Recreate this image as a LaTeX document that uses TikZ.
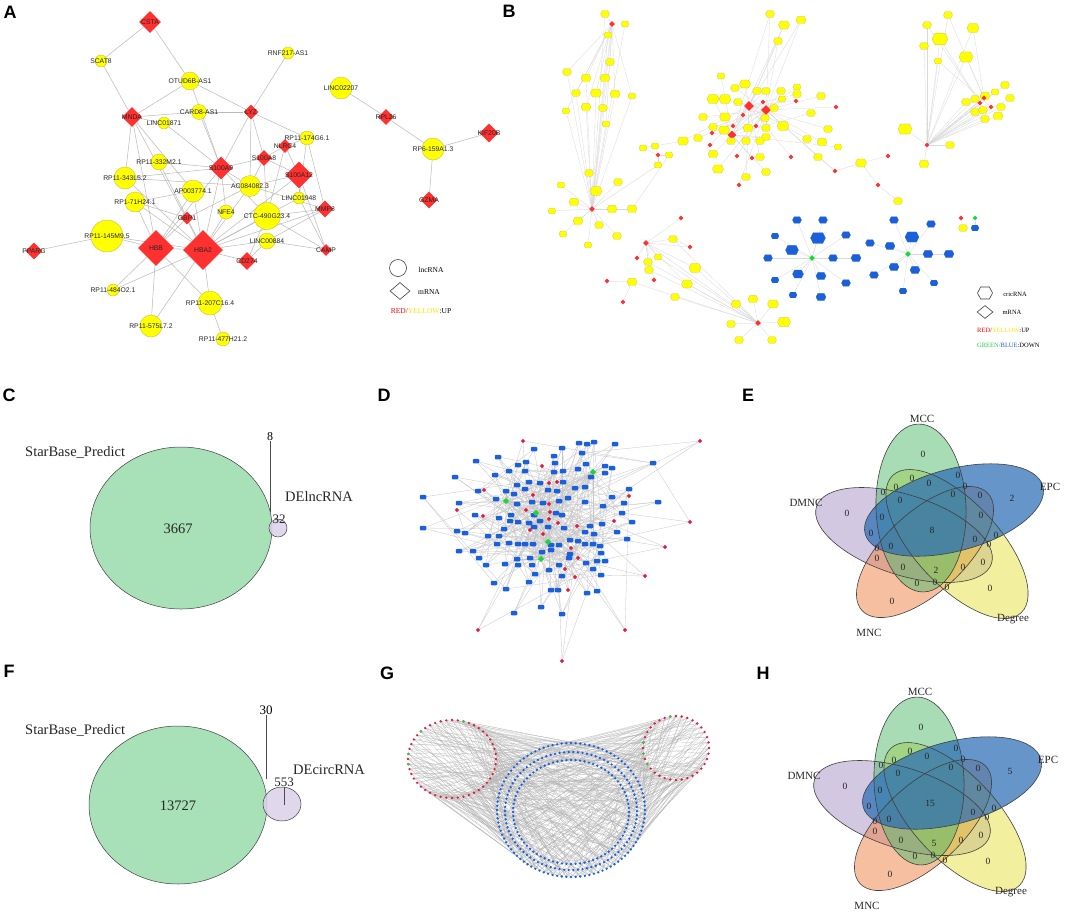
\documentclass[tikz,border=0pt]{standalone}
\usepackage{fontspec}
\setmainfont{Liberation Serif}
\setsansfont{Liberation Sans}
\usetikzlibrary{shapes.geometric,shapes.symbols}
\pgfdeclarelayer{bg}
\pgfsetlayers{bg,main}

\definecolor{cyred}{HTML}{FF3030}
\definecolor{cyyellow}{HTML}{FFFF00}
\definecolor{cyblue}{HTML}{1C5FDB}
\definecolor{cygreen}{HTML}{1ED43C}
\definecolor{ndred}{HTML}{E5193F}
\definecolor{mccfill}{HTML}{51BB6D}
\definecolor{epcfill}{HTML}{2A6DB5}
\definecolor{dmncfill}{HTML}{A793C7}
\definecolor{mncfill}{HTML}{EF8343}
\definecolor{degfill}{HTML}{E7E141}
\definecolor{spgreen}{HTML}{A8E0B8}
\definecolor{delilac}{HTML}{DCD1EA}

\tikzset{
  panel/.style={font=\fontsize{18}{18}\sffamily\bfseries, inner sep=0pt},
  lnc/.style={circle, fill=cyyellow, draw=yellow!70!black, line width=0.3pt, minimum size=#1, inner sep=0pt},
  mrna/.style={diamond, fill=cyred, minimum size=#1, inner sep=0pt},
  glab/.style={font=\fontsize{6.8}{6.8}\sffamily, text=black!85, inner sep=0pt},
  aedge/.style={gray!55, line width=0.5pt},
  hexy/.style={signal, signal to=east and west, signal pointer angle=125, fill=cyyellow, draw=yellow!75!black, line width=0.2pt, minimum width=#1, minimum height={0.72*#1}, inner sep=0pt},
  hexb/.style={hexy=#1, fill=cyblue, draw=cyblue},
  bred/.style={diamond, fill=cyred, minimum size=#1, inner sep=0pt},
  bred/.default=5,
  bgrn/.style={bred=#1, fill=cygreen},
  bgrn/.default=6,
  bedge/.style={gray!30, line width=0.3pt},
  legtxt/.style={font=\fontsize{7.5}{7.5}\selectfont, inner sep=0pt},
  legsml/.style={font=\fontsize{6.5}{6.5}\selectfont, inner sep=0pt},
  dblue/.style={rectangle, rounded corners=1pt, fill=cyblue, minimum width=6.5, minimum height=4.5, inner sep=0pt},
  dred/.style={diamond, fill=ndred, minimum size=4.5, inner sep=0pt},
  dgrn/.style={diamond, fill=cygreen, minimum size=6.5, inner sep=0pt},
  dedge/.style={gray!45, line width=0.3pt},
  gedge/.style={gray!60, line width=0.15pt},
  tlab/.style={font=\fontsize{14.5}{14.5}\selectfont, text=black!85, inner sep=0pt},
  vring/.style={draw=black!75, line width=0.6pt},
  vnum/.style={font=\fontsize{9.5}{9.5}\selectfont, text=black!85, inner sep=0pt},
  vlab/.style={font=\fontsize{11}{11}\selectfont, text=black!85, inner sep=0pt}
}

\begin{document}
\begin{tikzpicture}[x=1pt, y=-1pt]
\useasboundingbox (0,0) rectangle (1065,911);
\begin{pgfonlayer}{bg}
\fill[white] (0,0) rectangle (1065,911);
\end{pgfonlayer}

% panel letters
\node[panel] (lblA) at (10,12) {A};
\node[panel] (lblB) at (509,11) {B};
\node[panel] (lblC) at (9,395) {C};
\node[panel] (lblD) at (384,395) {D};
\node[panel] (lblE) at (748,395) {E};
\node[panel] (lblF) at (9,671) {F};
\node[panel] (lblG) at (387,673) {G};
\node[panel] (lblH) at (763,673) {H};

% ---------- A : lncRNA-mRNA network
\foreach \n/\x/\y/\s/\t in {scat/101/61/12/SCAT8, otud/190/81/18/OTUD6B-AS1, rnf/288/53/12/RNF217-AS1,
    lincA/164/123/12/LINC01871, card/199/112/15/CARD8-AS1, rpA/159/162/16/RP11-332M2.1,
    rpB/125/178/22/RP11-343L5.2, apn/193/191/22/AP003774.1, acn/250/186/21/AC084082.3,
    rpC/307/138/14/RP11-174G6.1, lincB/299/198/12/LINC01948, ctc/267/216/27/CTC-490G23.4,
    nfe/226/212/14/NFE4, rpD/135/202/20/RP1-71H24.1, rpE/107/236/32/RP11-145M9.5,
    lincC/267/241/16/LINC00884, rpF/113/290/12/RP11-484O2.1, rpG/210/303/24/RP11-207C16.4,
    rpH/151/326/22/RP11-575L7.2, rpI/223/339/14/RP11-477H21.2, lincD/341/88/22/LINC02207,
    rpJ/433/149/22/RP6-159A1.3}
  \node[lnc=\s, label={[glab]center:\t}] (\n) at (\x,\y) {};
\foreach \n/\x/\y/\s/\t in {csta/150/22/22/CSTA, mnda/132/117/20/MNDA, lyz/251/112/15/LYZ,
    sA9/221/168/23/S100A9, sA8/264/158/16/S100A8, nlrc/285/146/14/NLRC4, sA12/299/175/27/S100A12,
    mmp/325/209/17/MMP8, camp/326/250/12/CAMP, gbp/187/218/13/GBP1, hbb/156/248/36/HBB,
    hba/203/250/40/HBA2, pparg/34/251/17/PPARG, cd/247/261/18/CD274, rpl/386/117/16/RPL26,
    kif/489/133/19/KIF20B, gzma/429/200/17/GZMA}
  \node[mrna=\s, label={[glab]center:\t}] (\n) at (\x,\y) {};
\begin{pgfonlayer}{bg}
\foreach \a/\b in {csta/scat, csta/otud, scat/mnda, otud/mnda, otud/lyz, otud/sA9, rnf/lyz,
    mnda/card, card/lyz, card/sA9, lyz/sA9, lyz/sA8, lyz/rpC, lyz/acn, lincA/sA9, mnda/lincA,
    mnda/rpB, mnda/hbb, mnda/apn, mnda/hba, rpA/sA9, rpA/hba, rpB/sA9, rpB/hba, rpB/acn,
    sA9/hbb, sA9/hba, sA9/acn, sA9/sA8, sA9/nfe, sA9/ctc, sA8/nlrc, sA8/sA12, sA8/ctc, sA8/acn,
    nlrc/rpC, nlrc/ctc, nlrc/sA12, rpC/mmp, rpC/lincB, sA12/camp, sA12/lincB, sA12/hba, sA12/acn,
    lincB/camp, lincB/hba, mmp/ctc, mmp/lincC, mmp/hba, mmp/acn, camp/lincC, camp/ctc,
    hbb/hba, hbb/rpE, hbb/rpD, hbb/rpF, hbb/rpH, hbb/rpG, hbb/apn, hbb/gbp,
    hba/rpE, hba/cd, hba/rpG, hba/rpF, hba/rpH, hba/lincC, hba/ctc, hba/nfe, hba/acn, hba/rpD,
    hba/apn, rpE/pparg, rpG/rpI, cd/lincC, cd/ctc, gbp/rpD, gbp/acn, apn/rpD,
    lincD/rpl, rpl/rpJ, rpJ/kif, rpJ/gzma}
  \draw[aedge] (\a) -- (\b);
\end{pgfonlayer}
% legend A
\node[circle, draw=black!75, line width=0.6pt, minimum size=17, inner sep=0pt] (legA1) at (398,268) {};
\node[legtxt] (legA1t) at (431,270) {lncRNA};
\node[diamond, draw=black!75, line width=0.6pt, minimum width=20, minimum height=17, inner sep=0pt] (legA2) at (400,291) {};
\node[legtxt] (legA2t) at (429,292) {mRNA};
\node[legtxt] (legA3t) at (421,311) {\textcolor{red}{RED/}\textcolor{yellow!90!orange}{YELLOW}:UP};

% ---------- B : circRNA-mRNA network
\node[bred=6] (b1hub) at (612,24) {};
\node[bred=6] (b1low) at (592,209) {};
\foreach \x/\y/\s [count=\i] in {605/14/9, 625/24/8, 608/35/8, 610/62/9, 567/72/9, 586/78/10,
    605/78/10, 576/93/9, 596/93/11, 615/94/10, 632/96/8, 586/107/10, 603/108/9, 566/111/8, 606/124/8}{
  \node[hexy=\s] (b1t-\i) at (\x,\y) {};
  \begin{pgfonlayer}{bg}\draw[bedge] (b1hub) -- (b1t-\i) -- (b1low);\end{pgfonlayer}
}
\foreach \x/\y/\s [count=\i] in {589/173/9, 561/185/8, 596/191/12, 618/182/9, 574/202/10, 552/211/8,
    612/209/10, 632/209/10, 578/221/10, 599/225/9, 563/234/8, 617/236/9, 588/245/8}{
  \node[hexy=\s] (b1b-\i) at (\x,\y) {};
  \begin{pgfonlayer}{bg}\draw[bedge] (b1low) -- (b1b-\i);\end{pgfonlayer}
}
\node[bred] (b1r) at (658,155) {};
\foreach \x/\y [count=\i] in {643/148, 655/146, 669/155, 658/165}{
  \node[hexy=8] (b1s-\i) at (\x,\y) {};
  \begin{pgfonlayer}{bg}\draw[bedge] (b1r) -- (b1s-\i);\end{pgfonlayer}
}
% centre cluster
\node[bred=10] (b2h0) at (749,106) {};
\node[bred=10] (b2h1) at (766,110) {};
\node[bred=9] (b2h2) at (732,135) {};
\foreach \x/\y/\s [count=\i] in {770/14/9, 784/25/11, 801/20/10, 778/41/9, 721/76/8, 745/84/11,
    735/88/9, 713/99/12, 725/99/12, 738/102/9, 757/91/9, 766/91/9, 781/91/9, 797/87/8, 797/94/9,
    821/96/9, 782/99/8, 774/108/9, 703/117/9, 725/117/11, 765/118/9, 783/126/12, 811/113/9,
    828/129/9, 713/127/9, 724/130/11, 748/128/10, 766/128/9, 766/137/9, 731/141/9, 746/141/9,
    760/141/9, 807/139/9, 822/142/10, 838/147/8, 683/141/11, 698/138/9, 713/154/10, 760/157/9,
    818/157/9, 766/172/9, 746/177/9, 718/169/11}{
  \pgfmathtruncatemacro\h{mod(\i,3)}
  \node[hexy=\s] (b2y-\i) at (\x,\y) {};
  \begin{pgfonlayer}{bg}\draw[bedge] (b2h\h) -- (b2y-\i);\end{pgfonlayer}
}
\foreach \x/\y [count=\i] in {763/102, 796/101, 836/107, 743/115, 733/126, 756/126, 712/133,
    710/145, 737/156, 752/158, 791/157, 739/185}{
  \pgfmathtruncatemacro\h{mod(\i+1,3)}
  \node[bred] (b2r-\i) at (\x,\y) {};
  \begin{pgfonlayer}{bg}\draw[bedge] (b2h\h) -- (b2r-\i);\end{pgfonlayer}
}
% path to the right
\node[bred] (bp1) at (835,171) {};
\node[hexy=11] (bp2) at (861,163) {};
\node[bred] (bp3) at (888,156) {};
\node[bred] (bp4) at (878,185) {};
\node[hexy=9] (bp5) at (898,201) {};
% top right cluster
\node[bred] (b3h) at (927,145) {};
\foreach \x/\y/\s [count=\i] in {948/15/9, 927/25/9, 973/28/12, 940/39/16, 924/46/9, 966/57/14,
    938/61/8, 905/129/14, 950/145/9, 924/164/10, 1005/85/9, 995/92/8, 985/96/10, 975/99/9,
    966/102/9, 1010/98/9, 1001/107/9, 983/110/9, 975/112/9, 998/116/10, 985/119/9}{
  \node[hexy=\s] (b3y-\i) at (\x,\y) {};
  \begin{pgfonlayer}{bg}\draw[bedge] (b3h) -- (b3y-\i);\end{pgfonlayer}
}
\foreach \x/\y [count=\i] in {984/98, 980/103, 991/107}{
  \node[bred] (b3r-\i) at (\x,\y) {};
  \begin{pgfonlayer}{bg}\draw[bedge] (b3h) -- (b3r-\i);\end{pgfonlayer}
}
% down-regulated cluster
\node[bgrn] (bg1) at (812,258) {};
\node[bgrn] (bg2) at (908,254) {};
\foreach \x/\y/\s [count=\i] in {797/220/9, 823/220/9, 775/236/8, 818/238/15, 792/250/13,
    768/258/9, 833/258/9, 856/258/10, 846/235/9, 775/280/8, 798/274/11, 821/276/10, 846/283/9,
    793/295/8, 821/297/10}{
  \node[hexb=\s] (bbA-\i) at (\x,\y) {};
  \begin{pgfonlayer}{bg}\draw[bedge] (bg1) -- (bbA-\i);\end{pgfonlayer}
}
\foreach \x/\y/\s [count=\i] in {894/220/9, 931/224/9, 870/243/9, 890/246/10, 912/237/14,
    928/254/10, 949/254/10, 894/267/10, 915/270/10, 874/275/9, 903/291/8, 934/283/8}{
  \node[hexb=\s] (bbB-\i) at (\x,\y) {};
  \begin{pgfonlayer}{bg}\draw[bedge] (bg2) -- (bbB-\i);\end{pgfonlayer}
}
\node[bred] (bq1) at (961,218) {};
\node[bgrn=5] (bq2) at (975,218) {};
\node[hexy=9] (bq3) at (963,228) {};
\node[hexb=8] (bq4) at (975,228) {};
% lower left cluster
\node[bred=6] (b4h) at (758,323) {};
\node[bred=6] (b5h) at (646,243) {};
\foreach \x/\y [count=\i] in {681/218, 690/247, 637/258, 654/280, 607/281, 623/302}
  \node[bred] (b4r-\i) at (\x,\y) {};
\foreach \x/\y/\s [count=\i] in {673/239/9, 658/257/8, 648/262/9, 649/270/9, 695/268/12,
    687/284/11, 632/282/10, 675/297/9, 753/299/10, 773/304/11, 736/304/10, 784/322/13,
    731/324/9, 739/340/9, 772/340/9}{
  \node[hexy=\s] (b4y-\i) at (\x,\y) {};
  \begin{pgfonlayer}{bg}\draw[bedge] (b4h) -- (b4y-\i);\end{pgfonlayer}
}
\begin{pgfonlayer}{bg}
\foreach \a/\b in {b1low/b1s-4, b1s-1/b2y-36, bp1/b2y-40, bp1/b2h1, bp1/bp2, bp2/bp3, bp2/bp4,
    bp4/bp5, b3y-1/b3r-1, b3y-3/b3r-1, b3y-4/b3r-2, b3y-6/b3r-1, b3y-7/b3r-3, b3y-2/b3r-2,
    bq1/bq3, bq2/bq4, b5h/b4h, b5h/b4r-1, b5h/b4r-2, b5h/b4r-3, b5h/b4r-4, b5h/b4y-1, b5h/b4y-2,
    b5h/b4y-3, b5h/b4y-4, b5h/b4y-5, b5h/b4y-6, b4r-5/b4y-7, b4r-6/b4y-7, b4r-2/b4y-1,
    b1b-8/b1s-3, b2h2/b2y-1, b2h0/b2y-2, b2h1/b2y-3, b2h0/b2y-4}
  \draw[bedge] (\a) -- (\b);
\end{pgfonlayer}
% legend B
\node[signal, signal to=east and west, signal pointer angle=125, draw=black!75, line width=0.6pt, minimum width=15, minimum height=12, inner sep=0pt] (legB1) at (985,293) {};
\node[legsml] (legB1t) at (1015,294) {cricRNA};
\node[diamond, draw=black!75, line width=0.6pt, minimum width=16, minimum height=13, inner sep=0pt] (legB2) at (985,312) {};
\node[legsml] (legB2t) at (1012,312) {mRNA};
\node[legsml, anchor=west] (legB3t) at (977,330) {\textcolor{red}{RED/}\textcolor{yellow!90!orange}{YELLOW}:UP};
\node[legsml, anchor=west] (legB4t) at (977,345) {\textcolor{cygreen}{GREEN/}\textcolor{cyblue}{BLUE}:DOWN};

% ---------- C : lncRNA Venn
\fill[spgreen, draw=black!75, line width=0.5pt] (181,528) ellipse [x radius=91, y radius=81];
\fill[delilac, fill opacity=0.85, draw=black!75, line width=0.5pt] (278,528) circle [radius=9];
\node[tlab] (cnum) at (178,529) {3667};
\node[tlab, anchor=west] (csp) at (25,452) {StarBase\_Predict};
\node[tlab] (cde) at (319,497) {DElncRNA};
\node[font=\fontsize{12}{12}\selectfont, inner sep=0pt] (c8) at (270,437) {8};
\coordinate (c8end) at (270,512);
\draw[black!70, line width=0.6pt] (c8) -- (c8end);
\node[font=\fontsize{13}{13}\selectfont, text=black!85, inner sep=0pt] (c32) at (279,519) {32};

% ---------- F : circRNA Venn
\fill[spgreen, draw=black!75, line width=0.5pt] (178,805) ellipse [x radius=89, y radius=79];
\fill[delilac, fill opacity=0.85, draw=black!75, line width=0.5pt] (282,804) ellipse [x radius=19, y radius=17];
\node[tlab] (fnum) at (178,806) {13727};
\node[tlab, anchor=west] (fsp) at (25,730) {StarBase\_Predict};
\node[tlab, anchor=west] (fde) at (293,770) {DEcircRNA};
\node[font=\fontsize{13}{13}\selectfont, inner sep=0pt] (f30) at (266,710) {30};
\coordinate (f30end) at (266,779);
\draw[black!70, line width=0.6pt] (f30) -- (f30end);
\node[font=\fontsize{13}{13}\selectfont, text=black!85, inner sep=0pt] (f553) at (284,782) {553};
\coordinate (f553end) at (284,805);
\draw[black!70, line width=0.6pt] (f553) -- (f553end);

% ---------- D : hub network
\foreach \x/\y [count=\i] in {534/449, 562/448, 579/443, 587/444, 594/442, 615/444, 498/457, 476/461, 554/456, 582/453,
    518/465, 526/462, 555/463, 586/464, 605/466, 612/468, 653/463, 455/477, 495/475, 509/471,
    525/471, 554/472, 563/471, 578/469, 591/477, 605/473, 517/485, 529/482, 540/483, 563/482,
    506/491, 514/494, 525/489, 548/490, 557/491, 575/488, 585/487, 478/491, 629/489, 423/497,
    459/503, 496/499, 517/504, 532/502, 543/503, 559/501, 568/498, 585/502, 612/497, 624/503,
    603/506, 658/502, 475/515, 511/515, 534/515, 556/513, 562/515, 622/513, 499/518, 510/521,
    518/522, 529/523, 540/521, 548/527, 564/528, 590/526, 602/524, 632/522, 423/528, 457/531,
    465/533, 488/536, 499/536, 504/529, 534/527, 585/532, 594/534, 617/532, 627/539, 570/540,
    578/541, 497/544, 509/543, 518/544, 525/544, 533/544, 551/545, 559/545, 585/544, 593/544,
    600/546, 459/551, 473/551, 542/552, 551/550, 570/554, 601/553, 479/558, 517/559, 530/558,
    569/558, 586/563, 597/561, 605/561, 486/565, 505/564, 518/565, 532/565, 559/565, 549/570,
    593/569, 535/574, 562/576, 601/575, 494/583, 529/582, 506/589, 551/590, 558/590, 587/593,
    597/591, 541/607, 514/613, 562/614}
  \node[dblue] (db-\i) at (\x,\y) {};
\foreach \x/\y [count=\i] in {523/441, 542/466, 700/441, 549/483, 557/482, 484/490, 533/495, 629/496,
    457/510, 483/516, 526/510, 549/504, 550/512, 549/519, 558/523, 577/526, 614/521, 690/522,
    530/530, 543/534, 571/548, 578/558, 665/547, 565/569, 575/577, 645/576, 568/590, 478/630,
    625/630, 562/661}
  \node[dred] (dr-\i) at (\x,\y) {};
\foreach \x/\y [count=\i] in {593/472, 506/501, 536/513, 548/542, 541/559}
  \node[dgrn] (dg-\i) at (\x,\y) {};
\begin{pgfonlayer}{bg}
\foreach \i in {1,...,124}{
  \pgfmathtruncatemacro\g{mod(\i,5)+1}
  \pgfmathtruncatemacro\j{mod(\i*37,124)+1}
  \draw[dedge] (db-\i) -- (dg-\g);
  \draw[dedge] (db-\i) -- (db-\j);
}
\foreach \i in {1,...,30}{
  \foreach \k in {1,2,3}{
    \pgfmathtruncatemacro\j{mod(\i*17+\k*41,124)+1}
    \draw[dedge] (dr-\i) -- (db-\j);
  }
}
\end{pgfonlayer}

% ---------- G : circular layout
\foreach \i in {0,...,47} \coordinate (gl-\i) at ({452+44*cos(\i*7.5)},{759+39*sin(\i*7.5)});
\foreach \i in {0,...,35} \coordinate (gr-\i) at ({676+33*cos(\i*10)},{748+32*sin(\i*10)});
\foreach \i in {0,...,99} \coordinate (go-\i) at ({571+74*cos(\i*3.6)},{810+67*sin(\i*3.6)});
\foreach \i in {0,...,89} \coordinate (gm-\i) at ({571+66*cos(\i*4)},{811+59*sin(\i*4)});
\foreach \i in {0,...,79} \coordinate (gi-\i) at ({571+58*cos(\i*4.5)},{812+52*sin(\i*4.5)});
\begin{pgfonlayer}{bg}
\foreach \i in {0,...,47}{
  \foreach \k in {0,...,4}{
    \pgfmathtruncatemacro\j{mod(\i*13+\k*29,100)}
    \draw[gedge] (gl-\i) -- (go-\j);
  }
}
\foreach \i in {0,...,35}{
  \foreach \k in {0,...,4}{
    \pgfmathtruncatemacro\j{mod(\i*11+\k*31,100)}
    \draw[gedge] (gr-\i) -- (go-\j);
  }
}
\foreach \i in {0,...,79}{
  \pgfmathtruncatemacro\j{mod(\i*37+17,100)}
  \draw[gedge] (gi-\i) -- (go-\j);
}
\end{pgfonlayer}
\foreach \i in {0,...,47} \fill[ndred] (gl-\i) circle [radius=1.3];
\foreach \i in {23,25,30,38} \fill[cygreen] (gl-\i) circle [radius=1.3];
\foreach \i in {0,...,35} \fill[ndred] (gr-\i) circle [radius=1.3];
\foreach \i in {15,17,19,26} \fill[cygreen] (gr-\i) circle [radius=1.3];
\foreach \i in {0,...,99} \fill[cyblue] (go-\i) circle [radius=1.3];
\foreach \i in {0,...,89} \fill[cyblue] (gm-\i) circle [radius=1.3];
\foreach \i in {0,...,79} \fill[cyblue] (gi-\i) circle [radius=1.3];

% ---------- E and H : five-set Venn
\foreach \cx/\cy/\vepc/\vmid/\vbot/\pn in {932/530/2/8/2/E, 930/803/5/15/5/H}{
  \begin{scope}[shift={(\cx,\cy)}]
    \foreach \f/\op/\dx/\dy/\ph/\ra/\rb in {dmncfill/0.5/-28/5/162/92/40, mncfill/0.5/-7/22/43/86/40,
        degfill/0.5/25/14/-47/94/42, mccfill/0.5/-11/-22/92/84/45, epcfill/0.72/22/-20/15/92/41}
      \fill[\f, fill opacity=\op, shift={(\dx,\dy)}, rotate=\ph]
        (0,0) ellipse [x radius=\ra, y radius=\rb];
    \foreach \dx/\dy/\ph/\ra/\rb in {-28/5/162/92/40, -7/22/43/86/40, 25/14/-47/94/42,
        -11/-22/92/84/45, 22/-20/15/92/41}
      \draw[vring, shift={(\dx,\dy)}, rotate=\ph]
        (0,0) ellipse [x radius=\ra, y radius=\rb];
    \foreach \px/\py [count=\i] in {-9/-76, -20/-52, 26/-55, -3/-47, -49/-38, -36/-43, 33/-44,
        48/-35, 21/-36, -32/-30, -85/-17, -50/-13, 49/-15, -61/3, 64/5, 43/9, -55/18, -41/16,
        57/14, -55/28, 51/32, -29/37, 31/37, -15/53, 3/52, 15/57, 58/58, -40/71}
      \node[vnum] (z\pn-\i) at (\px,\py) {0};
    \node[vnum] (epc\pn) at (80,-32) {\vepc};
    \node[vnum] (mid\pn) at (0,0) {\vmid};
    \node[vnum] (bot\pn) at (4,40) {\vbot};
    \node[vlab] (lmcc\pn) at (-10,-111) {MCC};
    \node[vlab] (lepc\pn) at (118,-43) {EPC};
    \node[vlab] (ldmnc\pn) at (-126,-27) {DMNC};
    \node[vlab] (ldeg\pn) at (81,89) {Degree};
    \node[vlab] (lmnc\pn) at (-63,103) {MNC};
  \end{scope}
}
\end{tikzpicture}
\end{document}
